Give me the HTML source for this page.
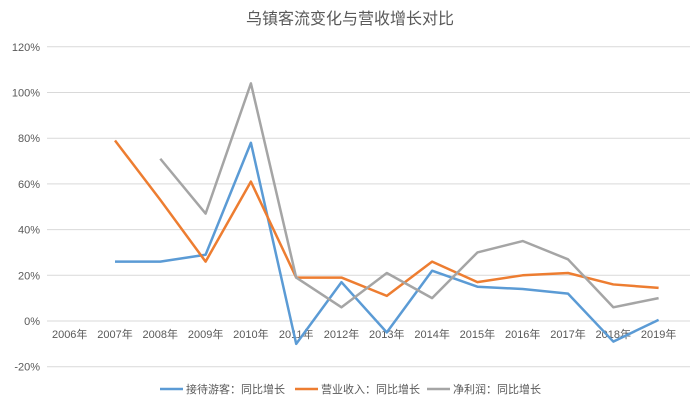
<!DOCTYPE html>
<html><head><meta charset="utf-8">
<style>
body{margin:0;background:#fff;}
svg{display:block;font-family:"Liberation Sans","Noto Sans CJK SC",sans-serif;}
</style></head>
<body>
<svg id="chart" width="700" height="409">
<text x="350" y="24" text-anchor="middle" font-size="16" fill="#595959">乌镇客流变化与营收增长对比</text>
<g id="grid"></g><g id="ylab"></g><g id="xlab"></g><g id="series"></g>
<g>
 <g><line x1="160" y1="389" x2="183" y2="389" stroke="#5B9BD5" stroke-width="2.5"/><text x="186" y="393" font-size="11" fill="#595959">接待游客：同比增长</text></g>
 <g><line x1="295" y1="389" x2="318" y2="389" stroke="#ED7D31" stroke-width="2.5"/><text x="321" y="393" font-size="11" fill="#595959">营业收入：同比增长</text></g>
 <g><line x1="427" y1="389" x2="450" y2="389" stroke="#A5A5A5" stroke-width="2.5"/><text x="453" y="393" font-size="11" fill="#595959">净利润：同比增长</text></g>
</g>
</svg>
<script>
const categories=["2006年","2007年","2008年","2009年","2010年","2011年","2012年","2013年","2014年","2015年","2016年","2017年","2018年","2019年"];
const visitors=[null,26,26,29,78,-10,17,-5,22,15,14,12,-9,0.5];
const revenue=[null,79,53,26,61,19,19,11,26,17,20,21,16,14.5];
const profit=[null,null,71,47,104,19,6,21,10,30,35,27,6,10];
const yTicks=[-20,0,20,40,60,80,100,120];
const NS="http://www.w3.org/2000/svg";
const y=v=>321-(v/20)*45.7;
const x=i=>69.7+45.3*i;
function mk(t,a,p){const e=document.createElementNS(NS,t);for(const k in a)e.setAttribute(k,a[k]);p.appendChild(e);return e;}
const grid=document.getElementById('grid'),yl=document.getElementById('ylab'),xl=document.getElementById('xlab'),sg=document.getElementById('series');
yTicks.forEach(v=>{
 const l=mk('line',{x1:47,x2:690,y1:y(v),y2:y(v),stroke:'#d9d9d9','stroke-width':1},grid);
 
 
 const t=mk('text',{x:40,y:y(v)+4,'text-anchor':'end','font-size':11,fill:'#595959'},yl);
 t.textContent=v+'%';
 
 
});
categories.forEach((c,i)=>{
 const t=mk('text',{x:x(i),y:y(0)+17,'text-anchor':'middle','font-size':11,fill:'#595959'},xl);
 t.textContent=c;
 
 
});
function line(data,color,name){
 let d='';data.forEach((v,i)=>{if(v===null)return;d+=(d?'L':'M')+x(i)+','+y(v);});
 const p=mk('path',{d:d,fill:'none',stroke:color,'stroke-width':2.5,'stroke-linejoin':'round'},sg);
 
 
}
line(visitors,'#5B9BD5','visitors-line');
line(revenue,'#ED7D31','revenue-line');
line(profit,'#A5A5A5','profit-line');
</script>
</body></html>
